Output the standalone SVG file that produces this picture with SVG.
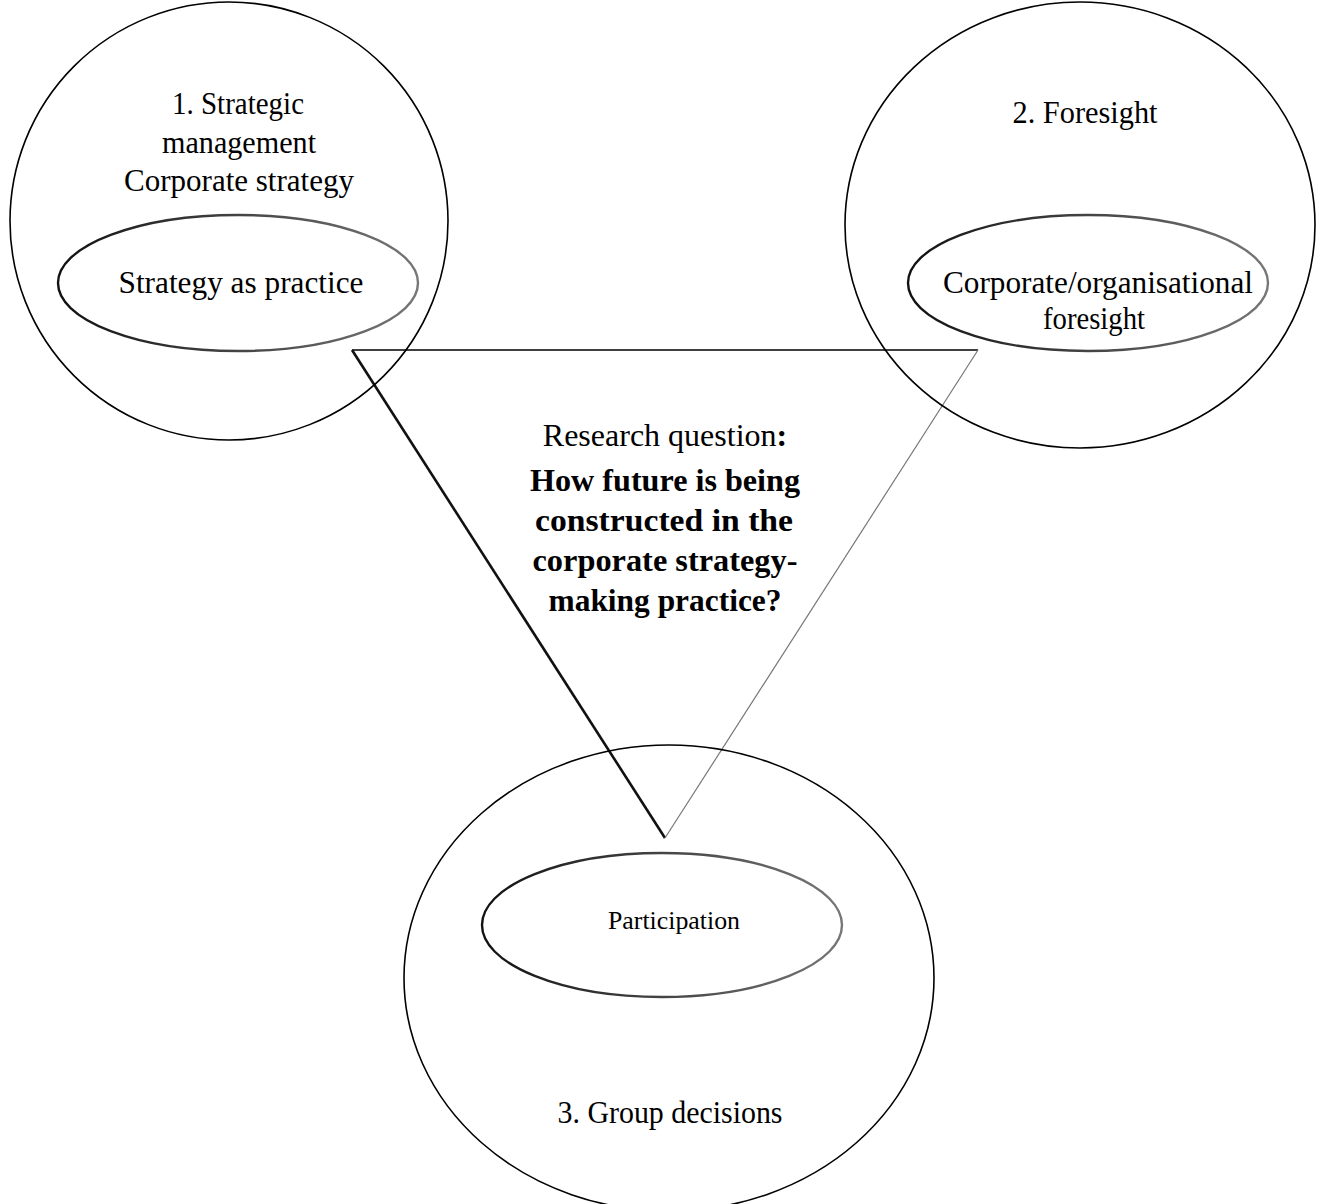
<svg xmlns="http://www.w3.org/2000/svg" width="1336" height="1204" viewBox="0 0 1336 1204">
  <defs>
    <!-- inner ellipses are drawn darker on the left, fading to grey on the right -->
    <linearGradient id="innerStroke" x1="0" y1="0" x2="1" y2="0">
      <stop offset="0" stop-color="#111"/>
      <stop offset="1" stop-color="#777"/>
    </linearGradient>
    <linearGradient id="innerStrokeLight" x1="0" y1="0" x2="1" y2="0">
      <stop offset="0" stop-color="#444"/>
      <stop offset="1" stop-color="#777"/>
    </linearGradient>
  </defs>
  <style>
    .outer { fill: none; stroke: #000; stroke-width: 1.6; }
    .inner { fill: none; stroke: url(#innerStroke); stroke-width: 2.4; }
    .lbl { font-family: "Liberation Serif", "Times New Roman", serif; font-size: 32px; fill: #000; text-anchor: middle; }
    .bold { font-weight: bold; }
    .small { font-size: 25px; }
  </style>
  <rect width="1336" height="1204" fill="#fff"/>

  <!-- connectors: the research-question triangle -->
  <g id="connectors">
    <line x1="352" y1="350" x2="978" y2="350" stroke="#000" stroke-width="1.5"/>
    <line x1="352" y1="350" x2="665" y2="838" stroke="#111" stroke-width="2.6"/>
    <line x1="978" y1="350" x2="665" y2="838" stroke="#777" stroke-width="1.2"/>
  </g>

  <g id="node-strategic-management">
    <ellipse class="outer" cx="229" cy="221" rx="219" ry="219"/>
    <text class="lbl" x="238" y="114" textLength="132" lengthAdjust="spacingAndGlyphs">1. Strategic</text>
    <text class="lbl" x="239" y="153" textLength="154" lengthAdjust="spacingAndGlyphs">management</text>
    <text class="lbl" x="239" y="191" textLength="230" lengthAdjust="spacingAndGlyphs">Corporate strategy</text>
  </g>

  <g id="node-strategy-as-practice">
    <ellipse class="inner" cx="238" cy="283" rx="180" ry="68"/>
    <text class="lbl" x="241" y="293" textLength="245" lengthAdjust="spacingAndGlyphs">Strategy as practice</text>
  </g>

  <g id="node-foresight">
    <ellipse class="outer" cx="1080" cy="225" rx="235" ry="223"/>
    <text class="lbl" x="1085" y="123" textLength="145" lengthAdjust="spacingAndGlyphs">2. Foresight</text>
  </g>

  <g id="node-corporate-foresight">
    <ellipse class="inner" cx="1088" cy="283" rx="180" ry="68" stroke="url(#innerStrokeLight)" stroke-width="1.8"/>
    <text class="lbl" x="1098" y="293" textLength="310" lengthAdjust="spacingAndGlyphs">Corporate/organisational</text>
    <text class="lbl" x="1094" y="329" textLength="102" lengthAdjust="spacingAndGlyphs">foresight</text>
  </g>

  <g id="node-research-question">
    <text class="lbl" x="665" y="446" font-size="31">Research question<tspan class="bold">:</tspan></text>
    <text class="lbl bold" x="665" y="491" textLength="270" lengthAdjust="spacingAndGlyphs">How future is being</text>
    <text class="lbl bold" x="664" y="531" textLength="258" lengthAdjust="spacingAndGlyphs">constructed in the</text>
    <text class="lbl bold" x="665" y="571" textLength="265" lengthAdjust="spacingAndGlyphs">corporate strategy-</text>
    <text class="lbl bold" x="665" y="611" textLength="233" lengthAdjust="spacingAndGlyphs">making practice?</text>
  </g>

  <g id="node-group-decisions">
    <ellipse class="outer" cx="669" cy="978" rx="265" ry="233"/>
    <text class="lbl" x="670" y="1123" textLength="225" lengthAdjust="spacingAndGlyphs">3. Group decisions</text>
  </g>

  <g id="node-participation">
    <ellipse class="inner" cx="662" cy="925" rx="180" ry="72"/>
    <text class="lbl small" x="674" y="929" textLength="132" lengthAdjust="spacingAndGlyphs">Participation</text>
  </g>
</svg>
